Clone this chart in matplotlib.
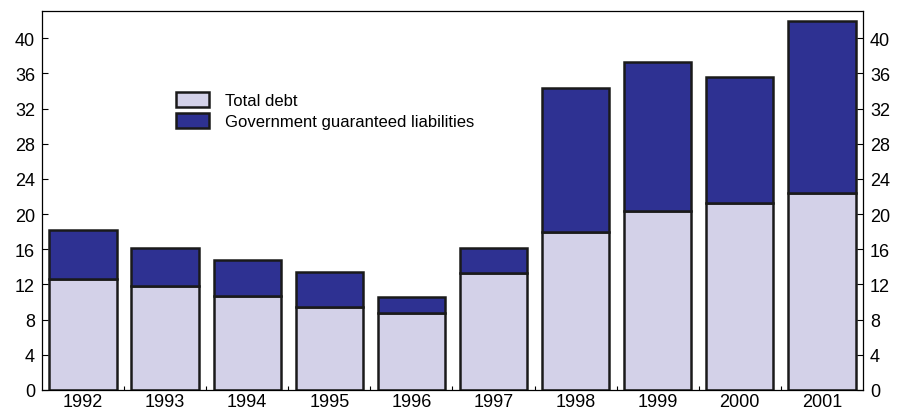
import numpy as np
import matplotlib
matplotlib.use('Agg')
import matplotlib.pyplot as plt
from matplotlib.ticker import MultipleLocator

# Data
# ----
years = ['1992', '1993', '1994', '1995', '1996', '1997', '1998', '1999', '2000', '2001']
total_debt = [12.6, 11.8, 10.65, 9.4, 8.75, 13.25, 18.0, 20.4, 21.3, 22.35]
total_with_guaranteed = [18.2, 16.1, 14.8, 13.45, 10.6, 16.2, 34.3, 37.3, 35.6, 42.0]
guaranteed = [t - d for t, d in zip(total_with_guaranteed, total_debt)]

plt.rcParams['font.family'] = ['Liberation Sans', 'DejaVu Sans']

fig = plt.figure(figsize=(8.97, 4.14), dpi=100)
ax = fig.add_axes([0.0468, 0.0556, 0.9152, 0.9154])

x = np.arange(len(years))
light = '#d3d1e8'
dark = '#2e3192'
ax.bar(x, total_debt, width=0.82, color=light, edgecolor='#1a1a1a', linewidth=1.8,
       label='Total debt')
ax.bar(x, guaranteed, width=0.82, bottom=total_debt, color=dark, edgecolor='#1a1a1a',
       linewidth=1.8, label='Government guaranteed liabilities')

ax.set_xlim(-0.5, len(years) - 0.5)
ax.set_ylim(0, 43.1)
ax.set_xticks(x)
ax.set_xticklabels(years)
ax.set_xticks(np.arange(0.5, len(years) - 1, 1), minor=True)
ax.tick_params(axis='x', which='major', length=0, labelsize=13, pad=2)
ax.tick_params(axis='x', which='minor', direction='in', length=3, width=0.8)

ax.yaxis.set_major_locator(MultipleLocator(4))
ax.tick_params(axis='y', which='major', direction='in', length=4, width=0.8,
               labelsize=13, left=True, right=True, labelleft=True, labelright=True, pad=5)
for s in ax.spines.values():
    s.set_linewidth(0.9)

ax.legend(loc='upper left', bbox_to_anchor=(0.163, 0.786), frameon=False,
          fontsize=12, handlelength=2.0, handleheight=1.0, labelspacing=0.3,
          handletextpad=0.95, borderpad=0, borderaxespad=0)

plt.savefig('out.png', dpi=100)
